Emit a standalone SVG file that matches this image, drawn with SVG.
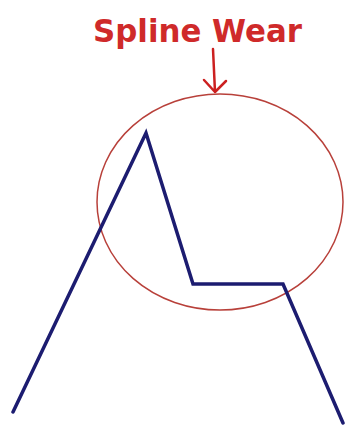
<svg xmlns="http://www.w3.org/2000/svg" width="345" height="427" viewBox="0 0 345 427">
<style>
.lbl{font-family:"DejaVu Sans","Liberation Sans",sans-serif;font-weight:bold;fill:#cf2a2a}
.arr{stroke:#cc2020;stroke-width:2.5;fill:none;stroke-linecap:round;stroke-linejoin:round}
.ring{stroke:#b8403a;stroke-width:1.5;fill:none}
.prof{stroke:#1c1c70;stroke-width:3.5;fill:none;stroke-linejoin:miter;stroke-linecap:round}
</style>
<rect width="345" height="427" fill="#ffffff"/>
<g id="label">
<text class="lbl" x="93" y="42" font-size="32" textLength="209" lengthAdjust="spacingAndGlyphs">Spline Wear</text>
</g>
<g id="wear-zone">
<ellipse class="ring" cx="220" cy="202" rx="123" ry="108"/>
</g>
<g id="spline-profile">
<polyline class="prof" points="13,412 146,133 193,284 283,284 343,423"/>
</g>
<g id="connectors">
<path class="arr" d="M213,49 L215,92 M204,80 L215,92 L226,81"/>
</g>
</svg>
